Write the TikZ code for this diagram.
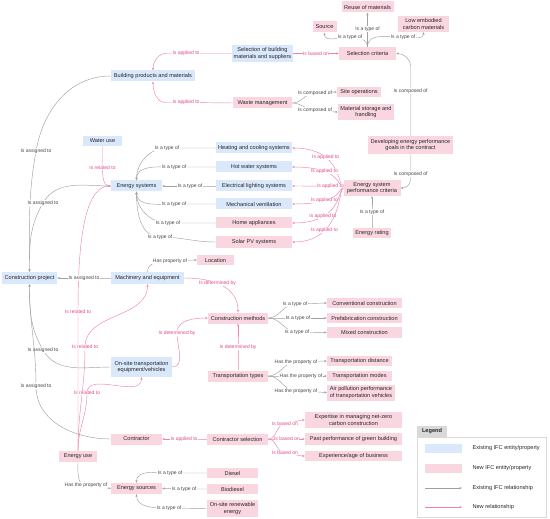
\documentclass[tikz,border=0pt]{standalone}
\usepackage{fontspec}
\setmainfont{Liberation Sans}
\usepackage{xcolor}
\usepackage{tikz}
\usetikzlibrary{arrows.meta,positioning}
\definecolor{ifcblue}{RGB}{218,232,252}
\definecolor{ifcpink}{RGB}{250,214,224}
\definecolor{linegray}{RGB}{160,160,160}
\definecolor{linepink}{RGB}{240,130,175}
\definecolor{textpink}{RGB}{226,72,140}
\definecolor{textgray}{RGB}{70,70,70}
\definecolor{tabgray}{RGB}{217,217,217}

\begin{document}
\begin{tikzpicture}[
  x=1pt, y=-1pt,
  every node/.style={font=\fontsize{5.6}{6.6}\selectfont, text=black!85},
  existing/.style={fill=ifcblue, align=center, inner sep=1pt, minimum height=11pt},
  newent/.style={fill=ifcpink, align=center, inner sep=1pt, minimum height=11pt},
  rel/.style={draw=linegray, line width=0.45pt, -{Stealth[length=2.6pt,width=2.2pt]}},
  newrel/.style={rel, draw=linepink},
  lbl/.style={fill=white, inner sep=0.5pt, font=\fontsize{5}{6}\selectfont, text=textgray},
  newlbl/.style={lbl, text=textpink},
  fan/.style={out=180, in=0, out distance=5pt, in distance=50pt}
]
\useasboundingbox (0,0) rectangle (550,519);

\node[newent, minimum width=52pt] (reuse) at (367.5,7) {Reuse of materials};
\node[newent, minimum width=24pt] (src) at (324.5,27) {Source};
\node[newent, minimum width=51pt, minimum height=16pt] (lowemb) at (423.5,24) {Low embodied\\carbon materials};
\node[existing, minimum width=61pt, minimum height=17pt] (selbm) at (262.5,53.5) {Selection of building\\materials and suppliers};
\node[newent, minimum width=57pt, minimum height=13pt] (selcrit) at (367.5,53.5) {Selection criteria};
\node[existing, minimum width=84pt] (bpm) at (153,76) {Building products and materials};
\node[newent, minimum width=59pt] (waste) at (262.5,103) {Waste management};
\node[newent, minimum width=44pt, minimum height=10pt] (siteop) at (359,92) {Site operations};
\node[newent, minimum width=56pt, minimum height=16pt] (storage) at (366,112) {Material storage and\\handling};
\node[newent, minimum width=85pt, minimum height=18pt] (goals) at (410.5,145) {Developing energy performance\\goals in the contract};
\node[newent, minimum width=57pt, minimum height=16pt] (escrit) at (372,188) {Energy system\\performance criteria};
\node[newent, minimum width=38pt, minimum height=10pt] (erating) at (372,233) {Energy rating};

\node[existing, minimum width=39pt, minimum height=10pt] (water) at (102.5,141) {Water use};
\node[existing, minimum width=51pt] (esys) at (136.5,186) {Energy systems};
\node[existing, minimum width=76pt] (heat) at (254,148) {Heating and cooling systems};
\node[existing, minimum width=76pt] (hotw) at (254,167) {Hot water systems};
\node[existing, minimum width=76pt] (elec) at (254,186) {Electrical lighting systems};
\node[existing, minimum width=76pt] (mech) at (254,204) {Mechanical ventilation};
\node[newent, minimum width=76pt] (home) at (254,223) {Home appliances};
\node[newent, minimum width=76pt] (solar) at (254,242) {Solar PV systems};

\node[newent, minimum width=37pt, minimum height=10pt] (loc) at (215.5,260) {Location};
\node[existing, minimum width=55pt, minimum height=12pt] (cp) at (29.5,278) {Construction project};
\node[existing, minimum width=73pt, minimum height=12pt] (mach) at (147.5,278) {Machinery and equipment};
\node[newent, minimum width=60pt] (cm) at (238,318) {Construction methods};
\node[newent, minimum width=75pt, minimum height=10pt] (conv) at (364.5,303) {Conventional construction};
\node[newent, minimum width=75pt, minimum height=10pt] (prefab) at (364.5,318) {Prefabrication construction};
\node[newent, minimum width=75pt] (mixed) at (364.5,332.5) {Mixed construction};
\node[existing, minimum width=61pt, minimum height=20pt] (onsite) at (141.5,367) {On-site transportation\\equipment/vehicles};
\node[newent, minimum width=60pt] (tt) at (238,376) {Transportation types};
\node[newent, minimum width=65pt, minimum height=10pt] (tdist) at (359.5,361) {Transportation distance};
\node[newent, minimum width=65pt, minimum height=10pt] (tmodes) at (359.5,376) {Transportation modes};
\node[newent, minimum width=68pt, minimum height=16pt] (airp) at (361,392.5) {Air pollution performance\\of transportation vehicles};

\node[newent, minimum width=51pt] (contr) at (136.5,439) {Contractor};
\node[newent, minimum width=61pt] (csel) at (237.5,439) {Contractor selection};
\node[newent, minimum width=97pt, minimum height=16pt] (expert) at (353.5,420) {Expertise in managing net-zero\\carbon construction};
\node[newent, minimum width=97pt, minimum height=12pt] (past) at (353.5,439) {Past performance of green building};
\node[newent, minimum width=97pt, minimum height=10pt] (exper) at (353.5,456) {Experience/age of business};
\node[newent, minimum width=38pt] (euse) at (78,456.5) {Energy use};
\node[newent, minimum width=51pt] (esrc) at (136.5,488.5) {Energy sources};
\node[newent, minimum width=51pt, minimum height=10pt] (diesel) at (232.5,473) {Diesel};
\node[newent, minimum width=51pt, minimum height=10pt] (biod) at (232.5,489) {Biodiesel};
\node[newent, minimum width=51pt, minimum height=17pt] (onren) at (232.5,508.5) {On-site renewable\\energy};

\draw[newrel] (selbm.west) -- (186,53.5) node[newlbl]{Is applied to} -- (166,53.5) to[out=180,in=90] (bpm.north);
\draw[newrel] (waste.west) -- (186,102.5) node[newlbl]{Is applied to} -- (166,102.5) to[out=180,in=-90] (bpm.south);
\draw[newrel] (selbm.east) -- (316,53.5) node[newlbl]{Is based on} -- (selcrit.west);
\draw[rel] (selcrit.north) -- (367.5,29) node[lbl]{Is a type of} -- (reuse.south);
\draw[rel] (selcrit.north) to[out=90,in=0] (350,37) node[lbl]{Is a type of} to[out=180,in=-90] (src.south);
\draw[rel] (selcrit.north) to[out=90,in=180] (403,37) node[lbl]{Is a type of} to[out=0,in=-90] (lowemb.south);
\draw[rel] (waste.east) to[out=0,in=180] (315,93) node[lbl]{Is composed of} -- (siteop.west);
\draw[rel] (waste.east) to[out=0,in=180] (315,110) node[lbl]{Is composed of} to[out=0,in=180] (storage.west);
\draw[rel] (goals.north) -- (410.5,91) node[lbl]{Is composed of} -- (410.5,66) to[out=90,in=0] (selcrit.east);
\draw[rel] (goals.south) -- (410.5,174) node[lbl]{Is composed of} -- (410.5,180) to[out=-90,in=0] (escrit.east);
\draw[rel] (erating.north) -- (372,212) node[lbl]{Is a type of} -- (escrit.south);

\draw[newrel] (escrit.west) to[fan] node[newlbl,pos=.68]{Is applied to} (heat.east);
\draw[newrel] (escrit.west) to[fan] node[newlbl,pos=.7]{Is applied to} (hotw.east);
\draw[newrel] (escrit.west) to[fan] node[newlbl,pos=.6]{Is applied to} (elec.east);
\draw[newrel] (escrit.west) to[fan] node[newlbl,pos=.7]{Is applied to} (mech.east);
\draw[newrel] (escrit.west) to[fan] node[newlbl,pos=.72]{Is applied to} (home.east);
\draw[newrel] (escrit.west) to[fan] node[newlbl,pos=.7]{Is applied to} (solar.east);

\draw[rel] (heat.west) -- (167,148) node[lbl]{Is a type of} to[out=180,in=90] (esys.north);
\draw[rel] (hotw.west) -- (174,167) node[lbl]{Is a type of} to[out=180,in=90] (esys.north);
\draw[rel] (elec.west) -- (190,186) node[lbl]{Is a type of} -- (esys.east);
\draw[rel] (mech.west) -- (174,204) node[lbl]{Is a type of} to[out=180,in=-90] (esys.south);
\draw[rel] (home.west) -- (168,223) node[lbl]{Is a type of} to[out=180,in=-90] (esys.south);
\draw[rel] (solar.west) to[out=180,in=0] (160,237) node[lbl]{Is a type of} to[out=180,in=-90] (esys.south);

\draw[newrel] (water.south) -- (102.5,168) node[newlbl]{Is related to} to[out=-90,in=180] (esys.west);
\draw[newrel] (euse.north) -- (78,312) node[newlbl]{Is related to} to[out=90,in=180,in distance=30pt] (esys.west);
\draw[newrel] (euse.north) to[out=90,in=-90] (85,347) node[newlbl]{Is related to} to[out=90,in=-90] (mach.south);
\draw[newrel] (euse.north) to[out=90,in=-90] (87,393) node[newlbl]{Is related to} to[out=90,in=-90] (onsite.south);

\draw[rel] (bpm.west) to[out=180,in=80] (36,151) node[lbl]{Is assigned to} to[out=-100,in=90] (cp.north);
\draw[rel] (esys.west) to[out=180,in=60] (43,203) node[lbl]{Is assigned to} to[out=-120,in=90] (cp.north);
\draw[rel] (mach.west) -- (84,278) node[lbl]{Is assigned to} -- (cp.east);
\draw[rel] (onsite.west) to[out=180,in=-60] (43,350) node[lbl]{Is assigned to} to[out=120,in=-90] (cp.south);
\draw[rel] (contr.west) to[out=180,in=-90] (36,386) node[lbl]{Is assigned to} to[out=90,in=-90] (cp.south);

\draw[rel] (mach.north) to[out=90,in=180] (170,261) node[lbl]{Has property of} -- (loc.west);
\draw[newrel] (mach.east) to[out=0,in=90,out distance=30pt] node[newlbl,pos=.42]{Is determined by} (cm.north);
\draw[newrel] (onsite.east) to[out=0,in=-90] (177,333) node[newlbl]{Is determined by} to[out=90,in=180] (cm.west);
\draw[newrel] (tt.north) -- (238,347) node[newlbl]{Is determined by} -- (cm.south);

\draw[rel] (cm.east) to[out=0,in=180] (295,304) node[lbl]{Is a type of} -- (conv.west);
\draw[rel] (cm.east) -- (298,318) node[lbl]{Is a type of} -- (prefab.west);
\draw[rel] (cm.east) to[out=0,in=180] (297,332) node[lbl]{Is a type of} -- (mixed.west);
\draw[rel] (tt.east) to[out=0,in=180] (296,362) node[lbl]{Has the property of} -- (tdist.west);
\draw[rel] (tt.east) -- (301,376) node[lbl]{Has the property of} -- (tmodes.west);
\draw[rel] (tt.east) to[out=0,in=180] (296,391) node[lbl]{Has the property of} -- (airp.west);

\draw[newrel] (csel.west) -- (184,439) node[newlbl]{Is applied to} -- (contr.east);
\draw[newrel] (csel.east) to[out=0,in=180] (285,424) node[newlbl]{Is based on} to[out=0,in=180] (expert.west);
\draw[newrel] (csel.east) -- (287,439) node[newlbl]{Is based on} -- (past.west);
\draw[newrel] (csel.east) to[out=0,in=180] (285,453) node[newlbl]{Is based on} to[out=0,in=180] (exper.west);

\draw[rel] (euse.south) to[out=-90,in=180] (86,485) node[lbl]{Has the property of} -- (esrc.west);
\draw[rel] (diesel.west) -- (170,473) node[lbl]{Is a type of} to[out=180,in=90] (esrc.north);
\draw[rel] (biod.west) -- (184,489) node[lbl]{Is a type of} -- (esrc.east);
\draw[rel] (onren.west) -- (169,508) node[lbl]{Is a type of} to[out=180,in=-90] (esrc.south);

\node[fill=tabgray, minimum width=30pt, minimum height=11pt, font=\fontsize{5.6}{6.6}\selectfont\bfseries] (legtab) at (432,431.5) {Legend};
\node[draw=black!15, minimum width=129pt, minimum height=80pt] (legbox) at (481.5,477) {};
\node[fill=ifcblue, minimum width=37pt, minimum height=9pt, inner sep=0pt] (legblue) at (443.5,448.5) {};
\node[anchor=west] (legbluetxt) at (469,448.5) {Existing IFC entity/property};
\node[fill=ifcpink, minimum width=37pt, minimum height=9pt, inner sep=0pt] (legpink) at (443.5,468.5) {};
\node[anchor=west] (legpinktxt) at (469,468.5) {New IFC entity/property};
\coordinate (leggray1) at (425,488);
\coordinate (leggray2) at (462,488);
\draw[rel] (leggray1) -- (leggray2);
\node[anchor=west] (leggraytxt) at (469,488) {Existing IFC relationship};
\coordinate (legrose1) at (425,507);
\coordinate (legrose2) at (462,507);
\draw[newrel] (legrose1) -- (legrose2);
\node[anchor=west] (legrosetxt) at (469,507) {New relationship};
\end{tikzpicture}
\end{document}
